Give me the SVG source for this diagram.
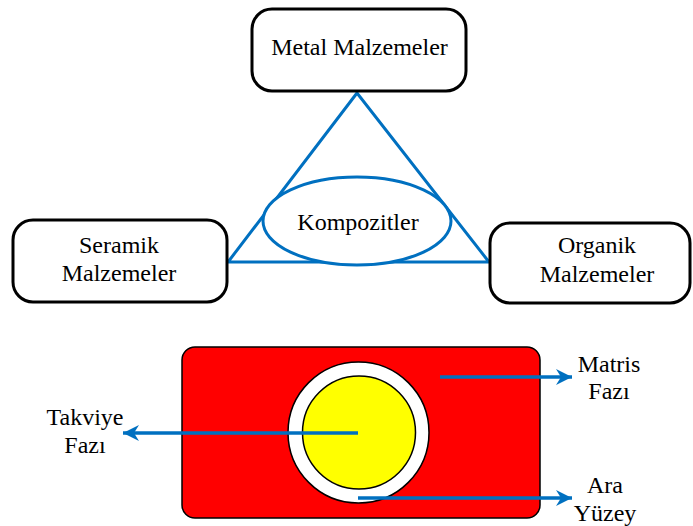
<svg xmlns="http://www.w3.org/2000/svg" width="693" height="526" viewBox="0 0 693 526">
<style>
.box{fill:#fff;stroke:#000;stroke-width:3}
.blue{fill:none;stroke:#0070C0;stroke-width:3}
.conn{fill:none;stroke:#0070C0;stroke-width:3.5}
.thin{stroke:#000;stroke-width:1.5}
</style>
<defs>
<marker id="ah" markerUnits="userSpaceOnUse" markerWidth="20" markerHeight="16" refX="16" refY="8" orient="auto">
<path d="M0,0 L16,8 L0,16 L5,8 Z" fill="#0070C0"/>
</marker>
</defs>
<g id="triangle">
<polygon class="blue" points="357,93 228,262 489,262"/>
</g>
<g font-family="'Liberation Serif', serif" font-size="24" fill="#000" text-anchor="middle">
<g id="metal">
<rect class="box" x="252" y="9" width="214" height="82" rx="20"/>
<text x="359.5" y="55">Metal Malzemeler</text>
</g>
<g id="seramik">
<rect class="box" x="13" y="220" width="214" height="82" rx="20"/>
<text x="119" y="253">Seramik</text>
<text x="119" y="281">Malzemeler</text>
</g>
<g id="organik">
<rect class="box" x="490" y="223" width="200" height="80" rx="20"/>
<text x="597" y="253">Organik</text>
<text x="597" y="282">Malzemeler</text>
</g>
<g id="kompozitler">
<ellipse cx="357" cy="221" rx="94" ry="44" fill="#fff" stroke="#0070C0" stroke-width="3"/>
<text x="358" y="230">Kompozitler</text>
</g>
<g id="matrix">
<rect class="thin" x="182" y="347" width="358" height="171" rx="13" fill="#FF0000"/>
<circle class="thin" cx="358.5" cy="432.5" r="70.5" fill="#fff"/>
<circle class="thin" cx="359" cy="432.5" r="56.5" fill="#FFFF00"/>
</g>
<g id="matris-label"><text x="609" y="372">Matris</text><text x="609" y="399">Fazı</text></g>
<g id="ara-label"><text x="605" y="493">Ara</text><text x="605" y="521">Yüzey</text></g>
<g id="takviye-label"><text x="85" y="425">Takviye</text><text x="85" y="453">Fazı</text></g>
</g>
<g id="connectors">
<line class="conn" x1="440" y1="377" x2="572" y2="377" marker-end="url(#ah)"/>
<line class="conn" x1="358" y1="433" x2="123" y2="433" marker-end="url(#ah)"/>
<line class="conn" x1="358" y1="498" x2="572" y2="498" marker-end="url(#ah)"/>
</g>
</svg>
